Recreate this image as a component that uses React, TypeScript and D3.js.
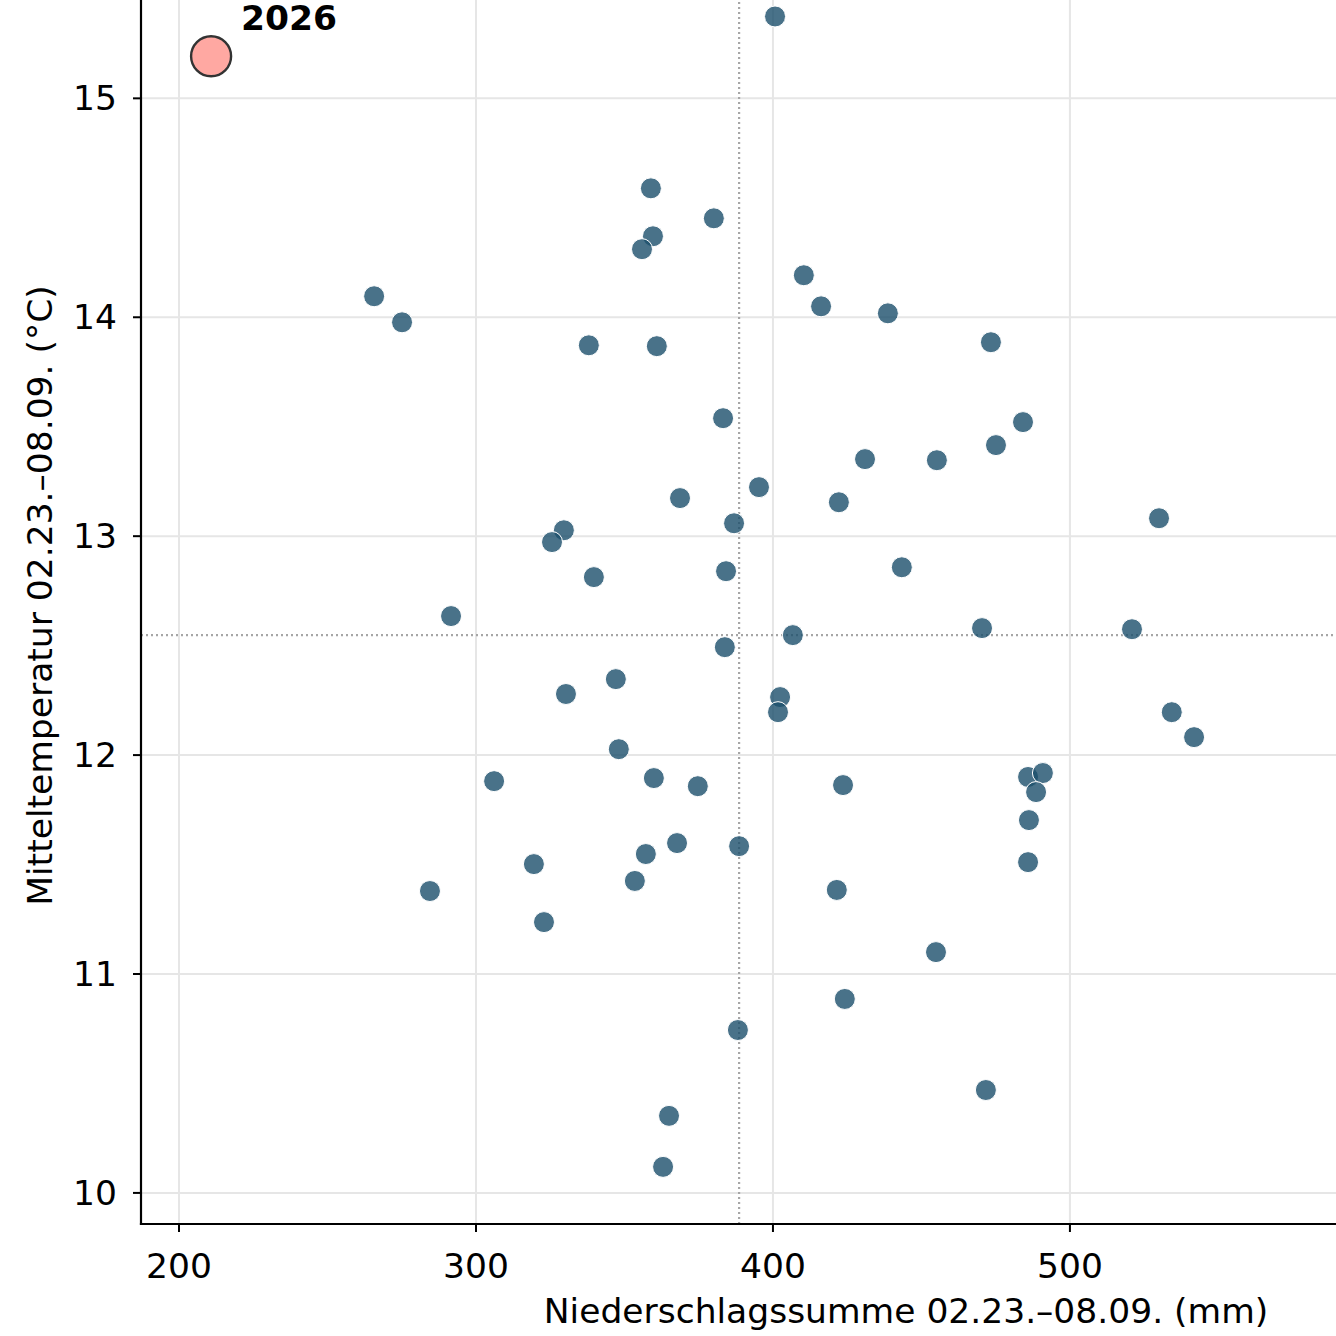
import React from "react";
import * as d3 from "d3";

const precip: number[] = [
  400.7, 358.9, 380.1, 359.6, 355.9, 410.4, 416.2, 438.7, 265.7, 275.1,
  338.0, 360.9, 473.4, 383.2, 484.2, 475.1, 431.0, 455.2, 395.3, 368.7,
  422.2, 386.9, 530.0, 329.6, 325.6, 443.4, 384.2, 339.7, 291.6, 470.4,
  520.9, 406.7, 383.8, 347.1, 330.3, 402.4, 401.7, 534.3, 541.8, 348.1,
  306.1, 359.9, 374.7, 423.6, 485.9, 490.9, 488.6, 486.2, 485.9, 319.5,
  357.2, 367.7, 388.6, 353.5, 284.5, 421.5, 322.9, 454.9, 424.2, 388.2,
  471.7, 365.0, 363.0,
];
const temp: number[] = [
  15.374, 14.589, 14.452, 14.37, 14.311, 14.192, 14.05, 14.018, 14.096, 13.977,
  13.872, 13.868, 13.886, 13.539, 13.521, 13.416, 13.352, 13.347, 13.224, 13.174,
  13.155, 13.059, 13.082, 13.027, 12.973, 12.858, 12.84, 12.813, 12.635, 12.58,
  12.575, 12.548, 12.493, 12.347, 12.279, 12.265, 12.196, 12.196, 12.082, 12.027,
  11.881, 11.895, 11.858, 11.863, 11.9, 11.918, 11.831, 11.703, 11.511, 11.502,
  11.548, 11.598, 11.584, 11.425, 11.379, 11.384, 11.237, 11.1, 10.886, 10.744,
  10.47, 10.352, 10.119,
];

const highlightYear = "2026";
const highlightPrecip = 210.8;
const highlightTemp = 15.192;

const meanPrecip = 388.6;
const meanTemp = 12.548;

const xTicks: number[] = [200, 300, 400, 500, 600];
const yTicks: number[] = [10, 11, 12, 13, 14, 15];

const xLabel = "Niederschlagssumme 02.23.–08.09. (mm)";
const yLabel = "Mitteltemperatur 02.23.–08.09. (°C)";

const W = 1336;
const H = 1336;
const FONT = "'DejaVu Sans', sans-serif";
const FS = 34.5;

export default function App() {
  const left = 141;
  const right = 1671;
  const top = -33;
  const bottom = 1224;

  const x = d3.scaleLinear().domain([187.2, 702.4]).range([left, right]);
  const y = d3.scaleLinear().domain([9.858, 15.6]).range([bottom, top]);

  const visXTicks = xTicks.filter((t) => x(t) <= W);

  return (
    <svg
      width={W}
      height={H}
      style={{ position: "absolute", left: 0, top: 0, background: "#fff" }}
      fontFamily={FONT}
    >
      <rect x={0} y={0} width={W} height={H} fill="#fff" />
      {/* grid */}
      {visXTicks.map((t) => (
        <line key={"gx" + t} x1={x(t)} x2={x(t)} y1={top} y2={bottom} stroke="#e6e6e6" strokeWidth={2} />
      ))}
      {yTicks.map((t) => (
        <line key={"gy" + t} x1={left} x2={right} y1={y(t)} y2={y(t)} stroke="#e6e6e6" strokeWidth={2} />
      ))}
      {/* mean lines */}
      <line x1={x(meanPrecip)} x2={x(meanPrecip)} y1={top} y2={bottom} stroke="#a6a6a6" strokeWidth={2.2} strokeDasharray="2,3" />
      <line x1={left} x2={right} y1={y(meanTemp)} y2={y(meanTemp)} stroke="#a6a6a6" strokeWidth={2.2} strokeDasharray="2,3" />
      {/* points */}
      {precip.map((p, i) => (
        <circle
          key={"pt" + i}
          cx={x(p)}
          cy={y(temp[i])}
          r={10.5}
          fill="#1b4f6b"
          fillOpacity={0.8}
          stroke="#ffffff"
          strokeWidth={1}
        />
      ))}
      {/* highlight */}
      <circle cx={x(highlightPrecip)} cy={y(highlightTemp)} r={20} fill="#ffa8a2" stroke="#333333" strokeWidth={2.4} />
      <text x={x(highlightPrecip) + 30} y={y(highlightTemp) - 26} fontSize={FS} fontWeight="bold" fill="#000">
        {highlightYear}
      </text>
      {/* spines */}
      <line x1={left} x2={left} y1={top} y2={bottom + 1.1} stroke="#000" strokeWidth={2.2} />
      <line x1={left - 1.1} x2={right} y1={bottom} y2={bottom} stroke="#000" strokeWidth={2.2} />
      {/* x ticks */}
      {visXTicks.map((t) => (
        <g key={"xt" + t}>
          <line x1={x(t)} x2={x(t)} y1={bottom} y2={bottom + 8} stroke="#000" strokeWidth={2} />
          <text x={x(t)} y={bottom + 54} fontSize={FS} textAnchor="middle" fill="#000">
            {t}
          </text>
        </g>
      ))}
      {/* y ticks */}
      {yTicks.map((t) => (
        <g key={"yt" + t}>
          <line x1={left - 8} x2={left} y1={y(t)} y2={y(t)} stroke="#000" strokeWidth={2} />
          <text x={left - 24} y={y(t)} fontSize={FS} textAnchor="end" dominantBaseline="central" fill="#000">
            {t}
          </text>
        </g>
      ))}
      {/* axis labels */}
      <text x={(left + right) / 2} y={bottom + 99} fontSize={FS} textAnchor="middle" fill="#000">
        {xLabel}
      </text>
      <text
        transform={`translate(52, ${(top + bottom) / 2}) rotate(-90)`}
        fontSize={FS}
        textAnchor="middle"
        fill="#000"
      >
        {yLabel}
      </text>
    </svg>
  );
}
